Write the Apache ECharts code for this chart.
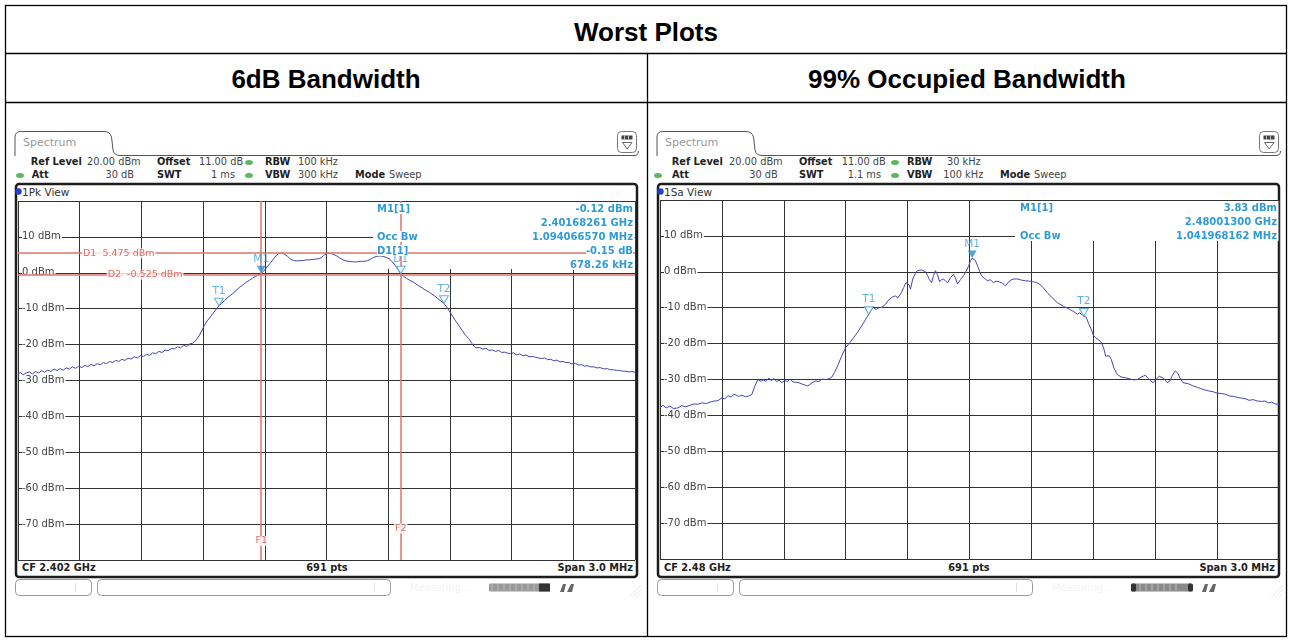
<!DOCTYPE html>
<html><head><meta charset="utf-8">
<script src="https://cdn.jsdelivr.net/npm/echarts@6/dist/echarts.min.js"></script>
<style>
html,body{margin:0;padding:0;background:#fff;}
#page{position:relative;width:1292px;height:642px;overflow:hidden;font-family:"DejaVu Sans",sans-serif;}
.t{position:absolute;font-size:9.8px;line-height:12px;height:12px;white-space:nowrap;color:#444;}
.b{font-weight:bold;color:#222;}
.cell{position:absolute;font-family:"Liberation Sans",Arial,sans-serif;font-weight:bold;font-size:26px;color:#000;text-align:center;line-height:28px;}
#chart{position:absolute;left:0;top:0;width:1292px;height:642px;z-index:2;}
.ro{position:absolute;z-index:5;font-size:10px;font-weight:bold;color:#2f9bd6;background:#fff;line-height:11px;height:11px;white-space:nowrap;}
#deco{position:absolute;left:0;top:0;z-index:1;}
.dot{position:absolute;width:8px;height:5px;border-radius:50%;background:#5cb85c;}
</style></head>
<body>
<div id="page">
<svg id="deco" width="1292" height="642" xmlns="http://www.w3.org/2000/svg">
  <rect x="5.5" y="5.5" width="1281" height="631" fill="none" stroke="#000" stroke-width="1.3"/>
  <line x1="5" y1="53.5" x2="1287" y2="53.5" stroke="#000" stroke-width="1.3"/>
  <line x1="5" y1="102.5" x2="1287" y2="102.5" stroke="#000" stroke-width="1.3"/>
  <line x1="647.5" y1="53" x2="647.5" y2="637" stroke="#000" stroke-width="1.3"/>
  <g id="pl"></g>
  <g id="pr" transform="translate(642,0)"></g>
</svg>
<div class="cell" style="left:5px;width:1282px;top:18px;">Worst Plots</div>
<div class="cell" style="left:5px;width:642px;top:65px;">6dB Bandwidth</div>
<div class="cell" style="left:647px;width:640px;top:65px;">99% Occupied Bandwidth</div>
<div id="chart"></div>
</div>
<script>
// ---------------- DATA ----------------
const yTickLabels = [10, 0, -10, -20, -30, -40, -50, -60, -70];
const spanMHz = [0, 3];

// Left: 6dB bandwidth trace (offset from start freq in MHz, level in dBm)
const leftTrace = [[0.000,-28.2],[0.012,-27.8],[0.025,-28.4],[0.040,-27.9],[0.055,-27.6],[0.070,-28.2],[0.085,-27.5],[0.100,-27.9],[0.115,-27.3],[0.130,-27.7],[0.145,-27.1],[0.160,-27.5],[0.175,-26.8],[0.190,-27.2],[0.205,-26.7],[0.220,-27.1],[0.235,-26.5],[0.250,-26.8],[0.265,-26.2],[0.280,-26.6],[0.295,-26.0],[0.310,-26.4],[0.325,-25.8],[0.340,-26.1],[0.355,-25.5],[0.370,-25.9],[0.385,-25.3],[0.400,-25.6],[0.415,-25.0],[0.430,-25.3],[0.445,-24.7],[0.460,-25.0],[0.475,-24.4],[0.490,-24.7],[0.505,-24.1],[0.520,-24.4],[0.535,-23.8],[0.550,-24.0],[0.565,-23.4],[0.580,-23.7],[0.595,-23.1],[0.610,-23.3],[0.625,-22.7],[0.640,-23.0],[0.655,-22.3],[0.670,-22.5],[0.685,-21.9],[0.700,-22.2],[0.715,-21.5],[0.730,-21.7],[0.745,-21.1],[0.760,-21.2],[0.775,-20.6],[0.790,-20.9],[0.805,-20.2],[0.820,-20.5],[0.835,-19.8],[0.850,-19.6],[0.865,-18.8],[0.880,-17.6],[0.893,-16.2],[0.905,-14.8],[0.920,-13.4],[0.935,-12.3],[0.950,-11.2],[0.965,-10.1],[0.977,-9.2],[0.990,-8.5],[1.005,-7.7],[1.020,-6.9],[1.035,-6.2],[1.050,-5.5],[1.065,-4.7],[1.080,-3.9],[1.095,-3.3],[1.110,-2.6],[1.125,-2.1],[1.140,-1.5],[1.155,-1.0],[1.170,-0.6],[1.183,-0.12],[1.195,0.5],[1.210,1.6],[1.225,2.6],[1.240,3.7],[1.255,4.8],[1.268,5.4],[1.282,5.475],[1.296,5.2],[1.310,4.6],[1.325,3.8],[1.340,3.4],[1.355,3.3],[1.370,3.4],[1.385,3.4],[1.400,3.6],[1.415,3.6],[1.430,3.7],[1.445,3.8],[1.460,3.9],[1.475,4.2],[1.490,5.0],[1.505,5.4],[1.520,5.4],[1.535,5.1],[1.550,4.7],[1.565,4.1],[1.580,3.6],[1.595,3.3],[1.610,3.2],[1.625,3.1],[1.640,3.0],[1.655,3.1],[1.670,3.2],[1.685,3.2],[1.700,3.4],[1.715,3.8],[1.730,4.3],[1.745,4.6],[1.760,4.7],[1.775,4.6],[1.790,4.3],[1.805,3.9],[1.820,3.1],[1.835,2.0],[1.848,0.9],[1.861,-0.27],[1.875,-1.0],[1.890,-1.6],[1.905,-2.1],[1.920,-2.5],[1.935,-3.1],[1.950,-3.7],[1.965,-4.2],[1.980,-4.8],[1.997,-5.3],[2.012,-5.9],[2.027,-6.5],[2.042,-7.2],[2.057,-7.9],[2.071,-8.5],[2.085,-9.6],[2.100,-10.9],[2.115,-12.3],[2.130,-13.6],[2.145,-14.8],[2.160,-16.1],[2.175,-17.3],[2.191,-18.3],[2.205,-19.5],[2.218,-20.5],[2.228,-20.9],[2.245,-20.8],[2.260,-21.3],[2.275,-21.0],[2.290,-21.6],[2.307,-21.5],[2.322,-21.9],[2.337,-21.6],[2.352,-22.2],[2.367,-22.1],[2.382,-22.4],[2.394,-22.5],[2.410,-22.3],[2.425,-22.9],[2.440,-22.6],[2.455,-23.1],[2.470,-22.9],[2.485,-23.4],[2.500,-23.3],[2.515,-23.5],[2.530,-23.7],[2.545,-23.9],[2.560,-23.7],[2.575,-24.2],[2.590,-24.1],[2.605,-24.5],[2.620,-24.3],[2.635,-24.8],[2.650,-24.7],[2.665,-25.0],[2.680,-25.0],[2.694,-25.4],[2.710,-25.2],[2.725,-25.7],[2.740,-25.6],[2.755,-26.0],[2.770,-25.9],[2.785,-26.2],[2.800,-26.2],[2.815,-26.5],[2.830,-26.4],[2.849,-26.8],[2.865,-26.7],[2.880,-27.0],[2.895,-27.0],[2.910,-27.2],[2.925,-27.2],[2.940,-27.4],[2.955,-27.4],[2.970,-27.6],[2.985,-27.5],[3.000,-27.7]];

// Right: 99% occupied bandwidth trace
const rightTrace = [[0.000,-37.8],[0.015,-37.2],[0.030,-37.9],[0.048,-37.4],[0.065,-38.1],[0.087,-37.9],[0.105,-37.3],[0.125,-37.6],[0.145,-37.2],[0.165,-36.8],[0.184,-36.9],[0.205,-36.5],[0.225,-36.7],[0.242,-36.3],[0.262,-36.0],[0.281,-35.9],[0.300,-35.1],[0.315,-35.4],[0.329,-34.5],[0.345,-34.9],[0.358,-34.1],[0.368,-34.3],[0.380,-34.7],[0.397,-34.4],[0.415,-34.8],[0.430,-34.6],[0.445,-34.2],[0.460,-31.8],[0.474,-30.0],[0.490,-30.5],[0.500,-30.1],[0.513,-30.5],[0.528,-29.6],[0.540,-30.4],[0.552,-29.7],[0.565,-30.6],[0.578,-30.2],[0.590,-30.9],[0.605,-30.3],[0.618,-30.6],[0.629,-29.9],[0.645,-30.7],[0.668,-30.8],[0.690,-31.3],[0.705,-31.6],[0.716,-31.8],[0.730,-31.2],[0.745,-30.7],[0.755,-30.4],[0.770,-30.6],[0.785,-29.9],[0.803,-30.0],[0.818,-29.8],[0.832,-29.4],[0.846,-28.0],[0.861,-26.2],[0.880,-23.5],[0.900,-21.1],[0.920,-19.7],[0.939,-18.3],[0.958,-16.8],[0.977,-15.1],[0.995,-13.4],[1.012,-11.8],[1.025,-10.4],[1.035,-10.0],[1.048,-10.5],[1.058,-10.1],[1.064,-10.6],[1.078,-9.8],[1.094,-9.0],[1.105,-8.0],[1.113,-7.6],[1.128,-7.0],[1.142,-6.7],[1.152,-7.3],[1.161,-7.6],[1.170,-5.8],[1.181,-4.4],[1.192,-3.0],[1.200,-2.5],[1.207,-3.6],[1.214,-4.8],[1.225,-2.0],[1.239,-0.2],[1.250,0.4],[1.258,0.6],[1.268,0.5],[1.277,0.6],[1.287,0.0],[1.297,-1.1],[1.306,-2.2],[1.316,-3.0],[1.326,-1.0],[1.335,0.3],[1.345,-0.8],[1.355,-2.8],[1.364,-2.2],[1.374,-2.0],[1.384,-2.6],[1.394,-3.0],[1.408,-1.6],[1.423,-0.7],[1.432,-1.8],[1.442,-3.4],[1.456,-2.2],[1.471,-1.1],[1.484,0.2],[1.496,1.7],[1.506,3.2],[1.513,3.83],[1.521,3.6],[1.529,3.1],[1.540,1.5],[1.550,0.0],[1.558,-1.1],[1.572,-1.8],[1.587,-2.5],[1.600,-2.2],[1.616,-3.0],[1.630,-2.6],[1.645,-2.8],[1.660,-3.2],[1.674,-3.9],[1.688,-2.9],[1.703,-2.2],[1.718,-2.0],[1.732,-2.0],[1.750,-2.3],[1.771,-2.5],[1.790,-2.6],[1.810,-2.8],[1.825,-3.0],[1.839,-3.4],[1.858,-4.5],[1.877,-5.8],[1.900,-7.2],[1.926,-8.6],[1.955,-9.6],[1.984,-10.4],[2.005,-11.1],[2.023,-11.8],[2.033,-11.4],[2.042,-11.2],[2.054,-12.3],[2.065,-12.6],[2.078,-14.5],[2.090,-16.0],[2.100,-17.6],[2.110,-18.3],[2.125,-18.9],[2.139,-19.7],[2.150,-21.2],[2.160,-23.5],[2.168,-23.0],[2.178,-23.4],[2.187,-24.4],[2.200,-26.8],[2.216,-28.6],[2.235,-29.3],[2.255,-29.5],[2.275,-29.8],[2.295,-30.1],[2.313,-30.0],[2.330,-29.4],[2.352,-28.8],[2.365,-29.6],[2.378,-30.4],[2.390,-30.9],[2.405,-29.9],[2.420,-29.1],[2.429,-28.6],[2.442,-29.7],[2.458,-30.9],[2.470,-30.5],[2.482,-29.0],[2.497,-27.6],[2.510,-28.3],[2.522,-29.8],[2.535,-30.9],[2.555,-31.1],[2.570,-31.4],[2.584,-31.8],[2.605,-32.2],[2.620,-32.5],[2.640,-32.9],[2.661,-33.2],[2.680,-33.4],[2.700,-33.8],[2.720,-33.9],[2.739,-34.1],[2.760,-34.6],[2.780,-34.7],[2.800,-35.0],[2.820,-35.2],[2.835,-35.3],[2.855,-35.8],[2.875,-35.6],[2.895,-36.0],[2.915,-36.1],[2.932,-36.0],[2.950,-36.5],[2.965,-36.3],[2.980,-36.8],[3.000,-36.9]];

// Markers: [offset MHz, level dBm, name]
const leftFilledMarkers = [[1.18261, -0.12, 'M1']];
const leftHollowMarkers = [[0.977, -9.2, 'T1'], [2.071, -8.5, 'T2'], [1.86087, -0.27, 'D1']];
const rightFilledMarkers = [[1.513, 3.83, 'M1']];
const rightHollowMarkers = [[1.012, -11.8, 'T1'], [2.054, -12.3, 'T2']];
// Frequency lines F1/F2 and display lines D1/D2 (left plot)
const leftFreqLines = [1.18261, 1.86087];
const leftFreqNames = ['F1', 'F2'];
const leftDispLines = [5.475, -0.525];
const leftDispNames = ['D1  5.475 dBm', 'D2  -0.525 dBm'];

// -------------- LAYOUT / DECORATION --------------
const page = document.getElementById('page');
function T(x, cy, text, cls, align) {
  const d = document.createElement('div');
  d.className = 't ' + (cls || '');
  d.textContent = text;
  d.style.top = (cy - 6) + 'px';
  if (align === 'r') d.style.right = (1292 - x) + 'px';
  else if (align === 'c') { d.style.left = (x - 100) + 'px'; d.style.width = '200px'; d.style.textAlign = 'center'; }
  else d.style.left = x + 'px';
  page.appendChild(d);
  return d;
}
function RO(x, cy, text, align) {
  const d = document.createElement('div');
  d.className = 'ro';
  d.textContent = text;
  d.style.top = (cy - 5.5) + 'px';
  if (align === 'r') d.style.right = (1292 - x) + 'px'; else d.style.left = x + 'px';
  page.appendChild(d);
}
function DOT(cx, cy) {
  const d = document.createElement('div');
  d.className = 'dot';
  d.style.left = (cx - 4) + 'px'; d.style.top = (cy - 2.5) + 'px';
  page.appendChild(d);
}
const NS = 'http://www.w3.org/2000/svg';
function S(g, tag, attrs) {
  const e = document.createElementNS(NS, tag);
  for (const k in attrs) e.setAttribute(k, attrs[k]);
  g.appendChild(e);
  return e;
}
function panelDeco(gid, rightPanel) {
  const g = document.getElementById(gid);
  S(g, 'path', {d: 'M15,156 L15,137 Q15,131.5 21,131.5 L104,131.5 Q110,131.5 111.5,137 L113,150 Q114,155.5 120,155.5 L634,155.5 Q638.5,155.5 638.5,151', fill: 'none', stroke: '#555', 'stroke-width': 1});
  S(g, 'rect', {x: 617.5, y: 131.5, width: 19, height: 21, rx: 4, fill: '#fff', stroke: '#777', 'stroke-width': 1});
  S(g, 'rect', {x: 621.5, y: 135.5, width: 11, height: 4, fill: '#444'});
  S(g, 'line', {x1: 624.5, y1: 135.5, x2: 624.5, y2: 139.5, stroke: '#ddd', 'stroke-width': 0.8});
  S(g, 'line', {x1: 628.5, y1: 135.5, x2: 628.5, y2: 139.5, stroke: '#ddd', 'stroke-width': 0.8});
  S(g, 'path', {d: 'M622.5,142.5 L632,142.5 L627.2,149 Z', fill: 'none', stroke: '#666', 'stroke-width': 1});
  S(g, 'rect', {x: 16, y: 184, width: 621, height: 393, rx: 3, fill: 'none', stroke: '#1c1c1c', 'stroke-width': 2.5});
  S(g, 'circle', {cx: 18.5, cy: 191.5, r: 3.2, fill: '#1f3fd6'});
  S(g, 'rect', {x: 15.5, y: 579.5, width: 76, height: 16, rx: 4, fill: '#fff', stroke: '#999', 'stroke-width': 1});
  S(g, 'line', {x1: 75.5, y1: 583, x2: 75.5, y2: 592, stroke: '#e0e0e0', 'stroke-width': 1});
  S(g, 'rect', {x: 97.5, y: 579.5, width: 293, height: 16, rx: 4, fill: '#fff', stroke: '#999', 'stroke-width': 1});
  S(g, 'line', {x1: 374.5, y1: 583, x2: 374.5, y2: 592, stroke: '#e0e0e0', 'stroke-width': 1});
  S(g, 'rect', {x: 489, y: 583.5, width: 61, height: 8, rx: 1.5, fill: rightPanel ? '#8a8a8a' : '#9a9a9a'});
  for (let i = 0; i < 8; i++) S(g, 'line', {x1: 492 + i * 6, y1: 584, x2: 492 + i * 6, y2: 591, stroke: '#c4c4c4', 'stroke-width': 0.8});
  if (rightPanel) {
    S(g, 'rect', {x: 489, y: 583.5, width: 5, height: 8, rx: 1.5, fill: '#333'});
    S(g, 'rect', {x: 546, y: 583.5, width: 5, height: 8, rx: 1.5, fill: '#333'});
  } else {
    S(g, 'rect', {x: 539, y: 583.5, width: 11, height: 8, fill: '#333'});
  }
  S(g, 'path', {d: 'M560,592 L563,584 L566,584 L564,592 Z M567,592 L571,584 L574,584 L572,592 Z', fill: '#666'});
  for (let i = 0; i < 3; i++) S(g, 'line', {x1: 629 + i * 4, y1: 597, x2: 641, y2: 585 + i * 4, stroke: '#e4e4e4', 'stroke-width': 0.8});
}
panelDeco('pl', false);
panelDeco('pr', true);

function panelText(dx, p) {
  const s = T(23 + dx, 142.5, 'Spectrum'); s.style.fontSize = '11px'; s.style.color = '#999';
  p.row1.forEach(it => { if (it[1] === '●') DOT(it[0] + dx, 162); else T(it[0] + dx, 162, it[1], it[2] ? 'b' : '', it[3]); });
  p.row2.forEach(it => { if (it[1] === '●') DOT(it[0] + dx, 175); else T(it[0] + dx, 175, it[1], it[2] ? 'b' : '', it[3]); });
  const v = T(22 + dx, 191.5, p.view); v.style.fontSize = '10.5px'; v.style.color = '#333';
  T(22 + dx, 568, p.cf, 'b');
  T(327 + dx, 568, '691 pts', 'b', 'c');
  T(633 + dx, 568, 'Span 3.0 MHz', 'b', 'r');
  const m = T(410 + dx, 588, 'Measuring...'); m.style.color = '#f3f3f3';
}
panelText(0, {
  row1: [[30.7, 'Ref Level', 1], [87, '20.00 dBm'], [157, 'Offset', 1], [199, '11.00 dB'], [249, '●'], [265, 'RBW', 1], [298, '100 kHz']],
  row2: [[20, '●'], [31.7, 'Att', 1], [134, '30 dB', 0, 'r'], [157, 'SWT', 1], [235, '1 ms', 0, 'r'], [249, '●'], [265, 'VBW', 1], [298, '300 kHz'], [355, 'Mode', 1], [389, 'Sweep']],
  view: '1Pk View', cf: 'CF 2.402 GHz'
});
panelText(642, {
  row1: [[29.7, 'Ref Level', 1], [87, '20.00 dBm'], [157, 'Offset', 1], [199.7, '11.00 dB'], [253, '●'], [265, 'RBW', 1], [305, '30 kHz']],
  row2: [[16, '●'], [30, 'Att', 1], [135.7, '30 dB', 0, 'r'], [157, 'SWT', 1], [239, '1.1 ms', 0, 'r'], [253, '●'], [265, 'VBW', 1], [301.3, '100 kHz'], [358, 'Mode', 1], [392, 'Sweep']],
  view: '1Sa View', cf: 'CF 2.48 GHz'
});

RO(377, 208, 'M1[1]'); RO(633, 208, '-0.12 dBm', 'r');
RO(633, 222, '2.40168261 GHz', 'r');
RO(377, 236, 'Occ Bw'); RO(633, 236, '1.094066570 MHz', 'r');
RO(377, 250, 'D1[1]'); RO(633, 250, '-0.15 dB', 'r');
RO(633, 264, '678.26 kHz', 'r');
RO(1020, 207, 'M1[1]'); RO(1277, 207, '3.83 dBm', 'r');
RO(1277, 221, '2.48001300 GHz', 'r');
RO(1020, 235, 'Occ Bw'); RO(1277, 235, '1.041968162 MHz', 'r');

// -------------- CHART --------------
const chart = echarts.init(document.getElementById('chart'), null, {renderer: 'canvas'});
const gridColor = '#333';
const traceColor = '#4343b3';
const redColor = '#e27468';
const redText = '#d8473e';
const mkColor = '#3a9fd6';
const fontF = '"DejaVu Sans", sans-serif';

function xAx(gi) {
  return {type: 'value', gridIndex: gi, min: spanMHz[0], max: spanMHz[1], interval: 0.3,
    axisLine: {show: false}, axisTick: {show: false}, axisLabel: {show: false},
    splitLine: {show: true, lineStyle: {color: gridColor, width: 1}}};
}
function yAx(gi) {
  return {type: 'value', gridIndex: gi, min: -80, max: 20, interval: 10,
    axisLine: {show: false}, axisTick: {show: false},
    splitLine: {show: true, lineStyle: {color: gridColor, width: 1}},
    axisLabel: {inside: true, margin: 4, color: '#444', fontFamily: fontF, fontSize: 10,
      backgroundColor: '#fff', padding: [0, 1, 0, 0],
      formatter: v => yTickLabels.indexOf(v) >= 0 ? v + ' dBm' : ''}};
}
const triDown = 'path://M0,0L10,0L5,8Z';
function markerSeries(gi, data, filled) {
  return {type: 'scatter', xAxisIndex: gi, yAxisIndex: gi, z: 6, data: data,
    symbol: triDown, symbolSize: [9, 7.5], symbolOffset: [0, -3.75],
    itemStyle: filled ? {color: '#2a8fd0'} : {color: '#fff', borderColor: mkColor, borderWidth: 1},
    label: {show: true, position: 'top', distance: 1, formatter: p => p.data[2],
      color: mkColor, fontFamily: fontF, fontSize: 10.5},
    silent: true};
}
function textSeries(gi, data, color, pos) {
  return {type: 'scatter', xAxisIndex: gi, yAxisIndex: gi, z: 5, data: data,
    symbolSize: 0.1, itemStyle: {color: 'transparent'},
    label: {show: true, position: pos, distance: 0, formatter: p => p.data[2], color: color,
      fontFamily: fontF, fontSize: 9.5, backgroundColor: '#fff', padding: [0, 1]},
    silent: true};
}

const option = {
  animation: false,
  grid: [
    {left: 18, top: 201, width: 617, height: 359},
    {left: 660, top: 200, width: 619, height: 359}
  ],
  xAxis: [xAx(0), xAx(1)],
  yAxis: [yAx(0), yAx(1)],
  graphic: {elements: [
    {type: 'rect', z: 1, shape: {x: 373, y: 202, width: 261.5, height: 67}, style: {fill: '#fff'}},
    {type: 'rect', z: 1, shape: {x: 1015, y: 201, width: 263.5, height: 40}, style: {fill: '#fff'}}
  ]},
  series: [
    {type: 'line', xAxisIndex: 0, yAxisIndex: 0, data: leftTrace, showSymbol: false, symbol: 'none',
      lineStyle: {color: traceColor, width: 1}, z: 4, silent: true,
      markLine: {silent: true, symbol: ['none', 'none'], label: {show: false},
        lineStyle: {color: redColor, width: 1.5, type: 'solid'},
        data: leftFreqLines.map(f => ({xAxis: f})).concat(leftDispLines.map(d => ({yAxis: d})))}},
    {type: 'line', xAxisIndex: 1, yAxisIndex: 1, data: rightTrace, showSymbol: false, symbol: 'none',
      lineStyle: {color: traceColor, width: 1}, z: 4, silent: true},
    textSeries(0, leftDispLines.map((d, i) => [i === 0 ? 0.311 : 0.431, d, leftDispNames[i]]), redText, 'right'),
    textSeries(0, leftFreqLines.map((f, i) => [f, i === 0 ? -74.7 : -71.2, leftFreqNames[i]]), redText, 'inside'),
    markerSeries(0, leftFilledMarkers, true),
    markerSeries(0, leftHollowMarkers, false),
    markerSeries(1, rightFilledMarkers, true),
    markerSeries(1, rightHollowMarkers, false)
  ]
};
chart.setOption(option);
</script>
</body></html>
